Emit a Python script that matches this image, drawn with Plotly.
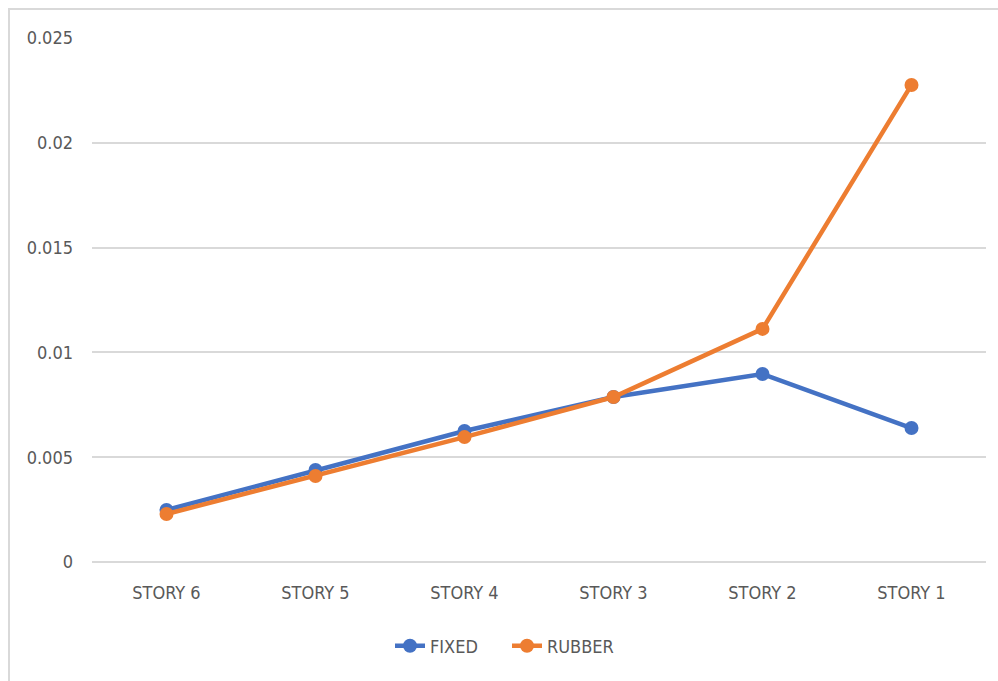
import plotly.graph_objects as go

# Story drift values per floor
stories = ["STORY 6", "STORY 5", "STORY 4", "STORY 3", "STORY 2", "STORY 1"]
fixed = [0.00248, 0.00439, 0.00625, 0.00787, 0.00897, 0.00639]
rubber = [0.00229, 0.00410, 0.00596, 0.00787, 0.01112, 0.02276]
y_ticks = [0, 0.005, 0.01, 0.015, 0.02, 0.025]
y_tick_text = ["0", "0.005", "0.01", "0.015", "0.02", "0.025"]

BLUE = "#4472C4"
ORANGE = "#ED7D31"
TEXT = "#595959"
GRID = "#d9d9d9"
FONT = "DejaVu Sans Condensed, Roboto, sans-serif"
FS = 18

fig = go.Figure()
fig.add_trace(go.Scatter(
    x=stories, y=fixed, name="FIXED", mode="lines+markers",
    line=dict(color=BLUE, width=4.5), marker=dict(color=BLUE, size=14),
))
fig.add_trace(go.Scatter(
    x=stories, y=rubber, name="RUBBER", mode="lines+markers",
    line=dict(color=ORANGE, width=4.5), marker=dict(color=ORANGE, size=14),
))

W, H = 998, 681
ml, mr, mt, mb = 92, 12, 38, 119
pw, ph = W - ml - mr, H - mt - mb

def px_x(p):
    return (p - ml) / pw

def px_y(p):
    return (H - mb - p) / ph

fig.update_layout(
    width=W, height=H,
    margin=dict(l=ml, r=mr, t=mt, b=mb),
    paper_bgcolor="white", plot_bgcolor="white",
    font=dict(family=FONT, size=FS, color=TEXT),
    showlegend=True,
    legend=dict(
        orientation="h", x=px_x(507), xanchor="center",
        y=px_y(646), yanchor="middle",
        font=dict(family=FONT, size=FS, color=TEXT),
        entrywidth=72, entrywidthmode="pixels", tracegroupgap=0,
    ),
    xaxis=dict(
        type="category", range=[-0.5, len(stories) - 0.5],
        showgrid=False, zeroline=False, showline=False,
        ticks="", ticklabelstandoff=18,
        tickfont=dict(family=FONT, size=FS, color=TEXT),
    ),
    yaxis=dict(
        range=[0, 0.025], tickvals=y_ticks, ticktext=y_tick_text,
        showgrid=True, gridcolor=GRID, gridwidth=1.5,
        zeroline=True, zerolinecolor=GRID, zerolinewidth=1.5,
        showline=False, ticks="", ticklabelstandoff=18,
        tickfont=dict(family=FONT, size=FS, color=TEXT),
    ),
    shapes=[dict(
        type="rect", xref="paper", yref="paper",
        x0=px_x(9), x1=px_x(1010), y0=px_y(9), y1=px_y(700),
        line=dict(color=GRID, width=2), fillcolor="rgba(0,0,0,0)",
        layer="below",
    )],
)

fig.write_html("out.html")
